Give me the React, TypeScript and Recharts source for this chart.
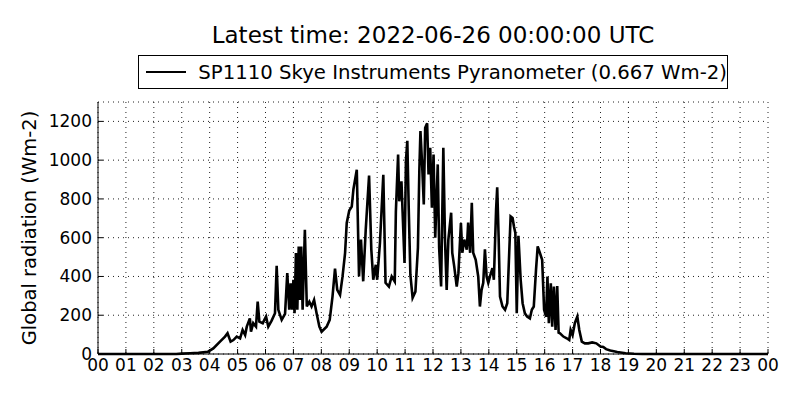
import { LineChart, Line, XAxis, YAxis, CartesianGrid } from 'recharts';

// hour of day (UTC) and global radiation in Wm-2
const hours = [
  0, 2.8, 3.0, 3.3, 3.6, 3.94, 4.13, 4.37, 4.55, 4.64, 4.75, 4.85, 4.97, 5.09, 5.18, 5.27, 5.33, 5.44, 5.48, 5.56,
  5.66, 5.72, 5.78, 5.9, 6.02, 6.1, 6.22, 6.34, 6.4, 6.46, 6.58, 6.7, 6.78, 6.85, 6.9, 6.95, 7.0, 7.04, 7.09, 7.14,
  7.19, 7.23, 7.28, 7.33, 7.41, 7.48, 7.57, 7.65, 7.74, 7.83, 7.93, 8.01, 8.19, 8.3, 8.4, 8.49, 8.57, 8.67, 8.76, 8.85,
  8.91, 9.0, 9.09, 9.15, 9.27, 9.35, 9.42, 9.5, 9.59, 9.71, 9.79, 9.86, 9.95, 10.0, 10.1, 10.22, 10.3, 10.42, 10.52, 10.63,
  10.67, 10.75, 10.79, 10.87, 10.91, 10.98, 11.03, 11.08, 11.13, 11.19, 11.27, 11.37, 11.46, 11.51, 11.55, 11.61, 11.67, 11.72, 11.79, 11.84,
  11.9, 11.96, 12.02, 12.08, 12.17, 12.22, 12.29, 12.37, 12.43, 12.49, 12.55, 12.65, 12.69, 12.76, 12.85, 12.91, 13.0, 13.05, 13.12, 13.21,
  13.26, 13.33, 13.39, 13.44, 13.53, 13.62, 13.68, 13.74, 13.8, 13.86, 13.92, 13.98, 14.04, 14.13, 14.18, 14.26, 14.3, 14.35, 14.4, 14.49,
  14.58, 14.66, 14.73, 14.78, 14.85, 14.9, 14.95, 15.0, 15.06, 15.14, 15.21, 15.29, 15.37, 15.47, 15.54, 15.61, 15.69, 15.75, 15.83, 15.91,
  15.98, 16.05, 16.1, 16.15, 16.22, 16.27, 16.33, 16.39, 16.45, 16.5, 16.55, 16.67, 16.79, 16.88, 16.93, 17.0, 17.08, 17.17, 17.24, 17.33,
  17.44, 17.56, 17.7, 17.85, 18.0, 18.1, 18.2, 18.35, 18.6, 18.9, 19.2, 19.5, 24,
];

const radiation = [
  0, 0, 2, 4, 6, 12, 29, 64, 90, 107, 64, 72, 90, 81, 124, 98, 141, 184, 115, 159,
  141, 270, 167, 159, 193, 141, 172, 210, 455, 228, 176, 207, 417, 228, 365, 228, 383, 210, 521, 228,
  555, 279, 555, 228, 641, 245, 270, 245, 279, 210, 141, 115, 141, 176, 296, 440, 331, 305, 400, 520,
  676, 740, 760, 850, 950, 400, 590, 375, 640, 920, 540, 383, 460, 383, 574, 925, 367, 348, 400, 374,
  736, 1029, 788, 891, 736, 470, 995, 1100, 755, 408, 290, 322, 548, 943, 1150, 978, 771, 1167, 1190, 926,
  1064, 755, 1029, 600, 978, 548, 348, 1064, 590, 331, 590, 729, 522, 452, 348, 417, 676, 522, 590, 538,
  678, 522, 780, 522, 486, 400, 245, 331, 367, 540, 400, 367, 400, 443, 383, 745, 860, 607, 296, 245,
  228, 262, 522, 710, 702, 658, 624, 210, 610, 383, 262, 210, 193, 184, 228, 245, 434, 555, 521, 486,
  228, 193, 400, 159, 365, 141, 348, 124, 350, 110, 107, 90, 81, 72, 124, 98, 159, 193, 124, 64,
  55, 55, 60, 55, 38, 36, 25, 18, 10, 4, 1, 0, 0,
];

const hourTicks = Array.from({ length: 25 }, (_, i) => i);
const radiationTicks = [0, 200, 400, 600, 800, 1000, 1200];

const rows = hours.map((h, i) => ({ h, v: radiation[i] }));

const FONT = '"DejaVu Sans", sans-serif';
const fmtHour = (h: number) => String(h % 24).padStart(2, '0');
const blank = () => '';

export default function App() {
  return (
    <div style={{ position: 'absolute', left: 0, top: 0, width: 800, height: 400, background: '#fff', fontFamily: FONT }}>
      <div style={{ position: 'absolute', left: 0, width: 866, top: 20, textAlign: 'center', fontSize: 23, lineHeight: '30px', color: '#000' }}>
        Latest time: 2022-06-26 00:00:00 UTC
      </div>

      {/* legend box */}
      <div
        style={{
          position: 'absolute', left: 138, top: 55, width: 588, height: 32,
          border: '1px solid #000', display: 'flex', alignItems: 'center', boxSizing: 'content-box',
        }}
      >
        <div style={{ marginLeft: 7, width: 42, height: 0, borderTop: '2.5px solid #000' }} />
        <div style={{ marginLeft: 12, fontSize: 19.7, whiteSpace: 'nowrap', color: '#000' }}>
          SP1110 Skye Instruments Pyranometer (0.667 Wm-2)
        </div>
      </div>

      <LineChart width={800} height={400} data={rows} margin={{ top: 102, right: 32, bottom: 16, left: 38 }}>
        <CartesianGrid xAxisId="bottom" yAxisId="left" stroke="#222" strokeDasharray="1 4" strokeWidth={1} />
        <XAxis
          xAxisId="bottom"
          dataKey="h"
          type="number"
          domain={[0, 24]}
          ticks={hourTicks}
          tickFormatter={fmtHour}
          interval={0}
          height={30}
          stroke="#000"
          tickSize={-5}
          tickMargin={10}
          tick={{ fill: '#000', fontSize: 17, fontFamily: FONT }}
        />
        <XAxis
          xAxisId="top"
          dataKey="h"
          type="number"
          orientation="top"
          domain={[0, 24]}
          ticks={hourTicks}
          tickFormatter={blank}
          interval={0}
          height={0}
          stroke="#000"
          tickSize={-5}
        />
        <YAxis
          yAxisId="left"
          domain={[0, 1300]}
          ticks={radiationTicks}
          interval={0}
          width={60}
          stroke="#000"
          tickSize={-5}
          tickMargin={11}
          tick={{ fill: '#000', fontSize: 17, fontFamily: FONT }}
          label={{
            value: 'Global radiation (Wm-2)', angle: -90, position: 'insideLeft',
            dx: -14, dy: 0, style: { textAnchor: 'middle', fill: '#000', fontSize: 19.5, fontFamily: FONT },
          }}
        />
        <YAxis
          yAxisId="right"
          orientation="right"
          domain={[0, 1300]}
          ticks={radiationTicks}
          tickFormatter={blank}
          interval={0}
          width={0}
          stroke="#000"
          tickSize={-5}
        />
        <Line
          xAxisId="bottom"
          yAxisId="left"
          dataKey="v"
          type="linear"
          stroke="#000"
          strokeWidth={2.6}
          dot={false}
          isAnimationActive={false}
        />
      </LineChart>
    </div>
  );
}
